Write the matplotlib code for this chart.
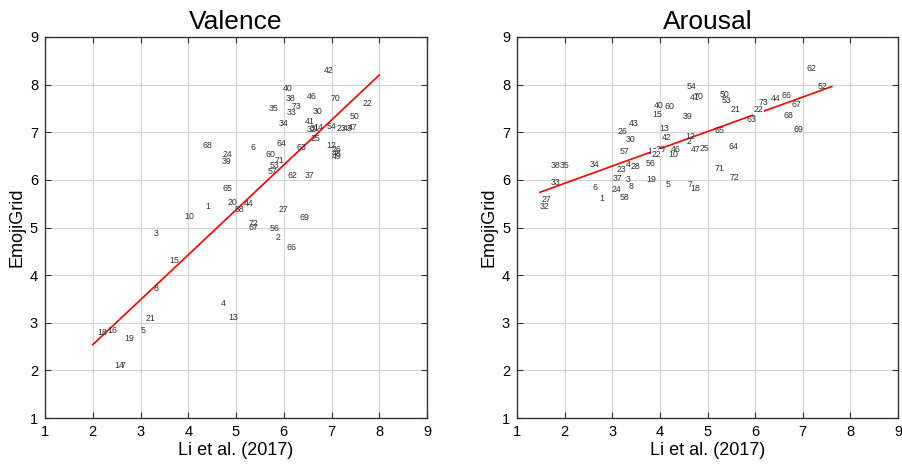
import matplotlib.pyplot as plt
import numpy as np

plt.rcParams['font.family'] = ['Liberation Sans', 'DejaVu Sans']

# Valence panel: label text, Li et al. (2017) rating, EmojiGrid rating
val_labels = ['42', '40', '38', '73', '46', '70', '22', '35', '33', '30', '50', '34', '41',
              '32', '31', '14', '54', '23', '43', '47', '25', '68', '6', '64', '63', '12',
              '26', '48', '49', '24', '39', '60', '71', '53', '57', '62', '37', '65', '1',
              '20', '44', '58', '10', '27', '69', '72', '67', '56', '2', '66', '3', '15',
              '8', '4', '13', '21', '18', '16', '5', '19', '14', '7']
val_x = [6.84, 5.97, 6.03, 6.17, 6.48, 6.99, 7.65, 5.69, 6.07, 6.61, 7.37, 5.89, 6.45,
         6.47, 6.55, 6.62, 6.90, 7.11, 7.23, 7.35, 6.56, 4.29, 5.31, 5.84, 6.26, 6.90,
         7.01, 7.01, 7.01, 4.72, 4.69, 5.62, 5.80, 5.71, 5.66, 6.07, 6.44, 4.72, 4.35,
         4.83, 5.17, 4.98, 3.91, 5.89, 6.34, 5.26, 5.26, 5.70, 5.82, 6.06, 3.28, 3.60,
         3.28, 4.68, 4.83, 3.11, 2.10, 2.30, 3.01, 2.65, 2.45, 2.59]
val_y = [8.29, 7.91, 7.70, 7.55, 7.75, 7.70, 7.61, 7.50, 7.41, 7.43, 7.34, 7.18, 7.22,
         7.05, 7.08, 7.10, 7.13, 7.08, 7.07, 7.10, 6.87, 6.73, 6.69, 6.77, 6.69, 6.72,
         6.63, 6.56, 6.49, 6.54, 6.38, 6.54, 6.40, 6.31, 6.17, 6.09, 6.09, 5.82, 5.44,
         5.52, 5.51, 5.38, 5.24, 5.37, 5.22, 5.09, 5.01, 4.98, 4.79, 4.59, 4.87, 4.30,
         3.72, 3.41, 3.11, 3.10, 2.80, 2.84, 2.83, 2.66, 2.10, 2.10]
val_fit_x = [2.0, 8.0]
val_fit_y = [2.54, 8.20]

# Arousal panel
aro_labels = ['54', '41', '70', '40', '60', '15', '39', '43', '26', '13', '42', '12', '2',
              '30', '57', '16', '20', '22', '46', '10', '47', '25', '38', '35', '34', '23',
              '4', '28', '56', '33', '27', '32', '6', '1', '37', '3', '8', '24', '58', '19',
              '5', '7', '18', '71', '62', '52', '50', '53', '21', '22', '73', '44', '66',
              '67', '63', '68', '65', '69', '64', '72']
aro_x = [4.56, 4.62, 4.70, 3.88, 4.09, 3.84, 4.47, 3.34, 3.11, 3.99, 4.03, 4.53, 4.55,
         3.28, 3.15, 3.74, 3.90, 3.83, 4.23, 4.17, 4.65, 4.83, 1.71, 1.90, 2.53, 3.09,
         3.29, 3.39, 3.70, 1.71, 1.52, 1.47, 2.58, 2.72, 3.00, 3.28, 3.35, 2.99, 3.16,
         3.71, 4.12, 4.59, 4.63, 5.14, 7.07, 7.32, 5.25, 5.30, 5.49, 5.96, 6.07, 6.32,
         6.56, 6.77, 5.81, 6.59, 5.14, 6.80, 5.44, 5.47]
aro_y = [7.96, 7.73, 7.75, 7.57, 7.54, 7.38, 7.33, 7.19, 7.01, 7.07, 6.89, 6.92, 6.80,
         6.85, 6.59, 6.59, 6.64, 6.54, 6.64, 6.54, 6.63, 6.66, 6.31, 6.31, 6.33, 6.21,
         6.33, 6.29, 6.35, 5.94, 5.59, 5.45, 5.84, 5.60, 6.02, 6.01, 5.87, 5.79, 5.64,
         6.00, 5.91, 5.91, 5.82, 6.24, 8.33, 7.97, 7.80, 7.66, 7.48, 7.47, 7.63, 7.71,
         7.78, 7.59, 7.27, 7.36, 7.03, 7.05, 6.71, 6.06]
aro_fit_x = [1.48, 7.61]
aro_fit_y = [5.74, 7.96]
aro_boxed = ['21', '22']

ticks = np.arange(1, 10)


def draw_panel(ax, title, labels, xs, ys, fit_x, fit_y, boxed=()):
    ax.set_xlim(1, 9)
    ax.set_ylim(1, 9)
    ax.set_xticks(ticks)
    ax.set_yticks(ticks)
    ax.grid(True, color='#d4d4d4', linewidth=0.8)
    ax.set_axisbelow(True)
    ax.plot(fit_x, fit_y, color='red', linewidth=1.2, zorder=2)
    for lab, x, y in zip(labels, xs, ys):
        kw = {}
        if lab in boxed:
            kw['bbox'] = dict(facecolor='white', edgecolor='none', pad=0.5)
        ax.text(x, y, lab, fontsize=6.3, color='#333333', ha='left', va='center',
                zorder=3, **kw)
    ax.set_title(title, fontsize=19, pad=6)
    ax.set_xlabel('Li et al. (2017)', fontsize=13, labelpad=2)
    ax.tick_params(direction='in', top=True, right=True, labelsize=10.5, length=4,
                   color='#333333', pad=5)
    for s in ax.spines.values():
        s.set_color('#333333')
        s.set_linewidth(1.0)


fig = plt.figure(figsize=(9.02, 4.74), dpi=100)
ax1 = fig.add_axes([0.0499, 0.118, 0.4235, 0.804])
ax2 = fig.add_axes([0.5732, 0.118, 0.4224, 0.804])

draw_panel(ax1, 'Valence', val_labels, val_x, val_y, val_fit_x, val_fit_y)
draw_panel(ax2, 'Arousal', aro_labels, aro_x, aro_y, aro_fit_x, aro_fit_y, aro_boxed)
ax1.set_ylabel('EmojiGrid', fontsize=13, labelpad=3)
ax2.set_ylabel('EmojiGrid', fontsize=13, labelpad=3)

fig.savefig('out.png', dpi=100)
